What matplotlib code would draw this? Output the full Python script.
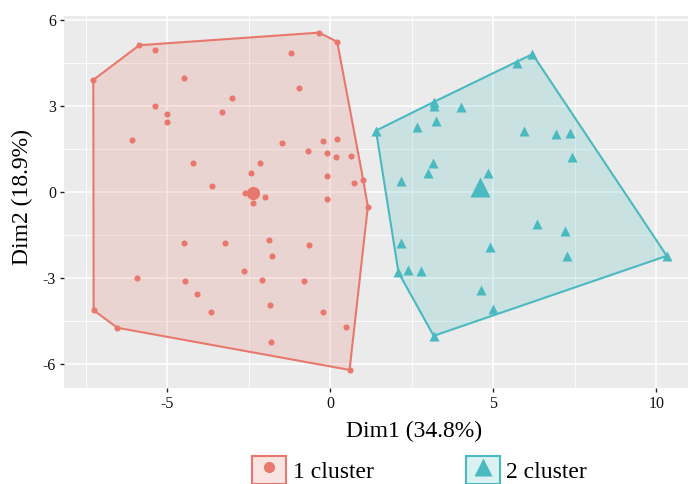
import numpy as np
import matplotlib
matplotlib.use("Agg")
import matplotlib.pyplot as plt
from matplotlib.patches import Patch, Polygon
from matplotlib.lines import Line2D
from matplotlib.legend_handler import HandlerTuple

plt.rcParams["font.family"] = ["Liberation Serif", "DejaVu Serif"]

# cluster 1 (circles)
c1_x = [-7.27, -5.86, -5.38, -0.34, 0.21, -1.21, -4.49, -0.97, -3.01, -5.39,
        -5.02, -5.02, -3.33, -6.07, -1.49, -0.21, 0.20, -0.68, -0.09, 0.18,
        0.63, -4.20, -2.16, -2.43, -0.11, 0.74, 1.01, -3.62, -2.62, -2.00,
        -0.09, -2.36, 1.15, -4.49, -3.24, -1.87, -0.66, -1.78, -2.66, -5.92,
        -4.45, -2.09, -0.81, -4.08, -1.85, -7.26, -3.65, -0.22, -6.53, 0.47,
        -1.82, 0.59]
c1_y = [3.90, 5.11, 4.94, 5.55, 5.23, 4.83, 3.98, 3.61, 3.27, 2.98,
        2.71, 2.43, 2.78, 1.79, 1.71, 1.78, 1.84, 1.42, 1.34, 1.22,
        1.23, 0.99, 1.01, 0.66, 0.55, 0.30, 0.40, 0.19, -0.06, -0.17,
        -0.25, -0.38, -0.52, -1.80, -1.78, -1.69, -1.86, -2.26, -2.77, -3.02,
        -3.10, -3.09, -3.11, -3.57, -3.96, -4.14, -4.21, -4.21, -4.75, -4.71,
        -5.23, -6.22]
c1_center = (-2.36, -0.03)

# cluster 2 (triangles)
c2_x = [1.40, 3.19, 3.19, 4.01, 2.67, 3.25, 5.72, 6.20, 5.95, 6.92,
        7.36, 7.42, 3.14, 2.99, 4.85, 2.18, 6.33, 7.19, 2.16, 4.90,
        7.25, 10.32, 2.09, 2.37, 2.79, 4.63, 4.98, 3.17]
c2_y = [2.13, 3.14, 2.99, 2.96, 2.25, 2.48, 4.48, 4.80, 2.13, 2.00,
        2.04, 1.20, 0.99, 0.64, 0.66, 0.38, -1.13, -1.37, -1.80, -1.93,
        -2.24, -2.24, -2.82, -2.73, -2.78, -3.42, -4.10, -5.03]
c2_center = (4.59, 0.15)

labels = ["1 cluster", "2 cluster"]
colors = ["#E8786D", "#4AB9C0"]
markers = ["o", "^"]


def convex_hull(xs, ys):
    pts = sorted(set(zip(xs, ys)))

    def cross(o, a, b):
        return (a[0] - o[0]) * (b[1] - o[1]) - (a[1] - o[1]) * (b[0] - o[0])

    lower, upper = [], []
    for p in pts:
        while len(lower) >= 2 and cross(lower[-2], lower[-1], p) <= 0:
            lower.pop()
        lower.append(p)
    for p in reversed(pts):
        while len(upper) >= 2 and cross(upper[-2], upper[-1], p) <= 0:
            upper.pop()
        upper.append(p)
    return np.array(lower[:-1] + upper[:-1])


W, H = 688, 484
fig = plt.figure(figsize=(W / 100, H / 100), dpi=100)
ax = fig.add_axes([64.3 / W, 1 - 387.7 / H, 1 - 64.3 / W, (387.7 - 16) / H])
ax.set_facecolor("#EBEBEB")
for s in ax.spines.values():
    s.set_visible(False)

ax.set_xlim(-8.16, 10.97)
ax.set_ylim(-6.84, 6.13)
ax.set_xticks([-5, 0, 5, 10])
ax.set_yticks([-6, -3, 0, 3, 6])
ax.set_xticks([-7.5, -2.5, 2.5, 7.5], minor=True)
ax.set_yticks([-4.5, -1.5, 1.5, 4.5], minor=True)
ax.grid(which="major", color="white", lw=1.1)
ax.grid(which="minor", color="white", lw=0.55)
ax.set_axisbelow(True)
ax.tick_params(which="major", length=3, width=1, color="#222222",
               labelsize=11.5, pad=3, labelcolor="#111111")
ax.tick_params(which="minor", length=0)
ax.set_xticklabels(["-5", "0", "5", "10"])
ax.set_yticklabels(["-6", "-3", "0", "3", "6"])

groups = [(c1_x, c1_y, c1_center, 4.4, 9.5),
          (c2_x, c2_y, c2_center, 6.5, 14)]
for (xs, ys, cen, ms, cms), col, mk in zip(groups, colors, markers):
    hull = convex_hull(xs, ys)
    ax.add_patch(Polygon(hull, closed=True, fc=col, alpha=0.2, ec="none", zorder=2))
    ax.add_patch(Polygon(hull, closed=True, fc="none", ec=col, lw=1.5, zorder=3))
    ax.plot(xs, ys, ls="", marker=mk, ms=ms, color=col, mec="none", zorder=4)
    ax.plot([cen[0]], [cen[1]], ls="", marker=mk, ms=cms, color=col, mec="none", zorder=5)

ax.set_xlabel("Dim1 (34.8%)", fontsize=17)
ax.xaxis.set_label_coords((414 - 64.3) / (W - 64.3), -(431 - 387.7) / (387.7 - 16))
ax.xaxis.label.set_va("center")
ax.set_ylabel("Dim2 (18.9%)", fontsize=17)
ax.yaxis.set_label_coords((22 - 64.3) / (W - 64.3), (387.7 - 197) / (387.7 - 16))
ax.yaxis.label.set_va("center")

handles = []
for col, mk, lms in zip(colors, markers, [8, 13]):
    box = Patch(fc=matplotlib.colors.to_rgba(col, 0.2), ec=col, lw=1.5)
    dot = Line2D([], [], ls="", marker=mk, ms=lms, color=col, mec="none")
    handles.append((box, dot))

fig.legend(handles, labels, handler_map={tuple: HandlerTuple(ndivide=1)},
           loc="center", bbox_to_anchor=(419.7 / W, 1 - 470 / H), ncol=2,
           frameon=False, fontsize=17, handlelength=1.44, handleheight=1.44,
           handletextpad=0.28, columnspacing=3.9, borderpad=0, borderaxespad=0)

fig.savefig("out.png", dpi=100)
